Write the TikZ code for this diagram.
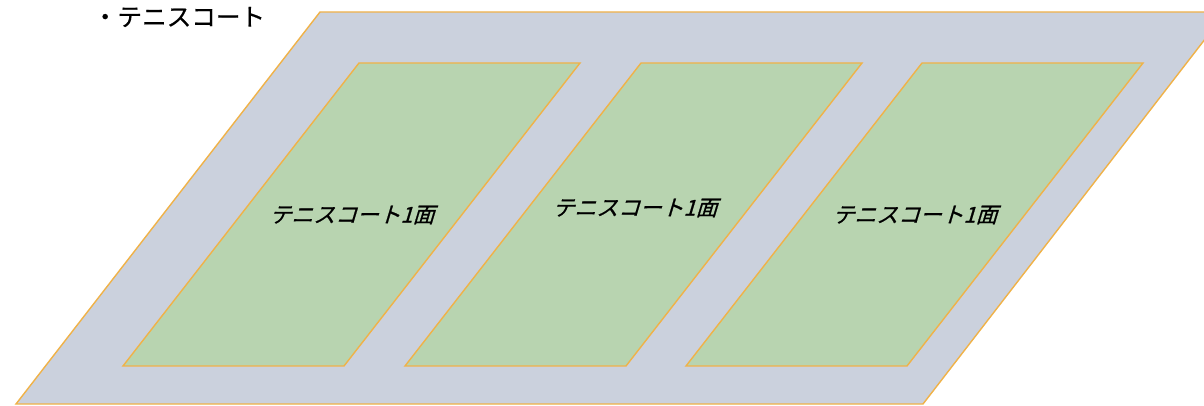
\documentclass[tikz,border=0pt]{standalone}
\usepackage{fontspec}
\newfontfamily\jpfont[FakeBold=0.6]{Noto Sans CJK JP}
\newfontfamily\jpslant[FakeSlant=0.3,FakeBold=0.8]{Noto Sans CJK JP}
\definecolor{sitefill}{RGB}{203,209,221}
\definecolor{courtfill}{RGB}{184,212,176}
\definecolor{courtline}{RGB}{240,178,72}

\begin{document}
\begin{tikzpicture}[
  x=0.025cm,y=-0.025cm,
  edge/.style={draw=courtline,line width=1pt,line join=miter},
  site/.style={edge,fill=sitefill},
  court/.style={edge,fill=courtfill},
  courtlabel/.style={font=\jpslant\fontsize{15.5}{15.5}\selectfont,inner sep=0pt},
  heading/.style={font=\jpfont\fontsize{17.5}{17.5}\selectfont,inner sep=0pt}
]
\useasboundingbox (0,0) rectangle (1204,406);
\clip (0,0) rectangle (1204,406);
% site and the three courts
\path[site] (320,12) -- (1226,12) -- (923,404) -- (16,404) -- cycle;
\path[court] (359,63) -- (580,63) -- (344,366) -- (123,366) -- cycle;
\path[court] (641,63) -- (862,63) -- (626,366) -- (405,366) -- cycle;
\path[court] (922,63) -- (1143,63) -- (907,366) -- (686,366) -- cycle;
% labels
\node[heading] (title) at (179,17) {・テニスコート};
\node[courtlabel] (court1) at (352,215) {テニスコート1面};
\node[courtlabel] (court2) at (635,208) {テニスコート1面};
\node[courtlabel] (court3) at (915,215) {テニスコート1面};
\end{tikzpicture}
\end{document}
